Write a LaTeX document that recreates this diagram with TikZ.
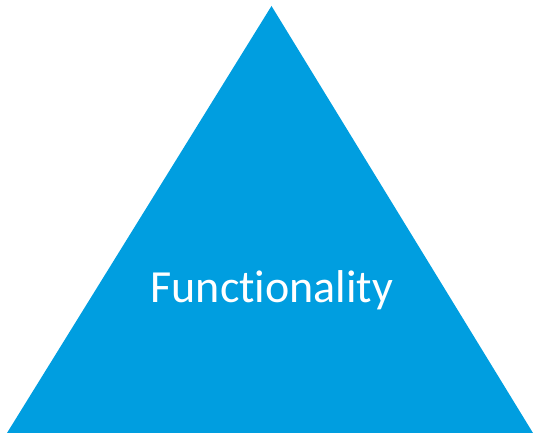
\documentclass[tikz,border=0pt]{standalone}
\usepackage{fontspec}
\setmainfont[Ligatures={NoCommon,NoDiscretionary}]{Carlito}
\definecolor{pyramidblue}{RGB}{0,158,224}
\begin{document}
\begin{tikzpicture}[
  x=1pt, y=1pt,
  title/.style={text=white, font=\fontsize{46}{50}\selectfont, anchor=base, inner sep=0pt},
]
  \useasboundingbox (0,0) rectangle (533,435);
  \coordinate (top) at (271.5,429);
  \coordinate (left) at (7,2);
  \coordinate (right) at (533,2);
  \fill[pyramidblue] (left) -- (top) -- (right) -- cycle;

  \node[title] (func) at (272,132) {Functionality};
\end{tikzpicture}
\end{document}
